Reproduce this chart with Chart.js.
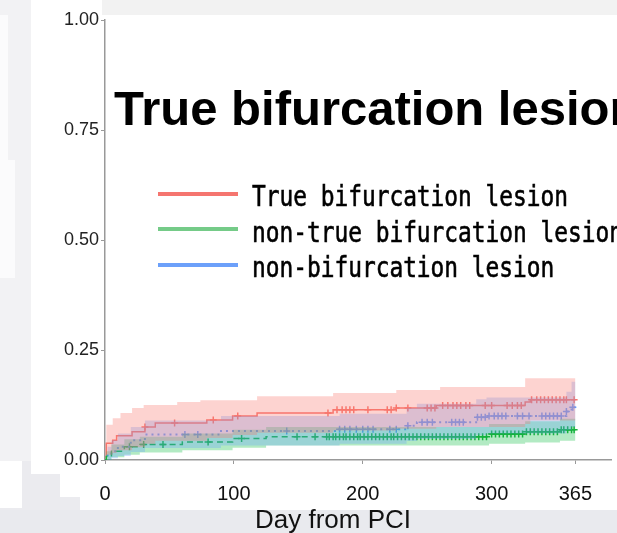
<!DOCTYPE html>
<html>
<head>
<meta charset="utf-8">
<script src="https://cdn.jsdelivr.net/npm/chart.js@4"></script>
<style>
  html, body { margin: 0; padding: 0; }
  body { width: 617px; height: 533px; position: relative; overflow: hidden; background: #ebebef; }
  .bg { position: absolute; }
  #wrap { position: absolute; left: 0; top: 0; width: 617px; height: 533px; z-index: 5; }
</style>
</head>
<body>
<!-- fondo recortado de la captura original -->
<div class="bg" style="left:0;top:0;width:31px;height:461px;background:#f2f2f4"></div>
<div class="bg" style="left:0;top:15px;width:8px;height:145px;background:#fbfbfc"></div>
<div class="bg" style="left:0;top:160px;width:15px;height:118px;background:#fbfbfc"></div>
<div class="bg" style="left:0;top:461px;width:22px;height:47px;background:#fff"></div>
<div class="bg" style="left:31px;top:0;width:71px;height:15px;background:#fff"></div>
<div class="bg" style="left:102px;top:0;width:515px;height:15px;background:#f2f2f2"></div>
<div class="bg" style="left:31px;top:15px;width:586px;height:459px;background:#fff"></div>
<div class="bg" style="left:60px;top:474px;width:557px;height:23px;background:#fff"></div>
<div class="bg" style="left:80px;top:497px;width:537px;height:13px;background:#fff"></div>
<div class="bg" style="left:0;top:510px;width:617px;height:23px;background:#e9eaee"></div>

<div id="wrap"><canvas id="km"></canvas></div>

<script>
// Colores de cada grupo
const rojo = '#F8766D';
const verde = '#1DAF3F';
const azul = '#619CFF';

// Nombres de los grupos (leyenda)
const grupos = ['True bifurcation lesion', 'non-true bifurcation lesion', 'non-bifurcation lesion'];
const xTicks = [0, 100, 200, 300, 365];
const yTicks = [0, 0.25, 0.5, 0.75, 1];

// True bifurcation lesion: tiempos de evento y incidencia acumulada
const redT = [0, 1, 6, 9, 21, 31, 39, 79, 99, 118, 177, 226, 257, 326, 330, 365];
const redV = [0, 0.038, 0.045, 0.055, 0.064, 0.075, 0.084, 0.091, 0.100, 0.107, 0.114, 0.118, 0.124, 0.132, 0.137, 0.137];
const redUT = [0, 1, 6, 12, 21, 30, 56, 74, 118, 177, 226, 260, 326, 365];
const redUV = [0, 0.08, 0.095, 0.107, 0.118, 0.125, 0.132, 0.136, 0.145, 0.152, 0.159, 0.166, 0.186, 0.186];
const redLT = [0, 1, 6, 9, 21, 31, 39, 79, 99, 118, 177, 226, 257, 326, 330, 365];
const redLV = [0, 0.012, 0.016, 0.022, 0.029, 0.037, 0.044, 0.05, 0.057, 0.062, 0.067, 0.071, 0.075, 0.082, 0.09, 0.09];
const redCensor = [31, 54, 84, 103, 173, 180, 184, 187, 190, 193, 204, 219, 222, 226, 235, 250, 253, 256, 262, 266, 270, 273, 276, 280, 283, 295, 300, 312, 316, 320, 323, 331, 335, 338, 341, 344, 347, 350, 353, 356, 358, 364];

// non-true bifurcation lesion
const greenT = [0, 1, 5, 15, 27, 60, 99, 125, 298, 326, 353, 365];
const greenV = [0, 0.008, 0.02, 0.03, 0.035, 0.041, 0.049, 0.053, 0.059, 0.064, 0.069, 0.069];
const greenUV = [0, 0.02, 0.035, 0.047, 0.053, 0.06, 0.069, 0.075, 0.082, 0.088, 0.094, 0.094];
const greenLV = [0, 0, 0.006, 0.012, 0.017, 0.022, 0.028, 0.033, 0.037, 0.04, 0.044, 0.044];
const greenCensor = [19, 30, 45, 80, 106, 149, 163, 172, 174, 177, 179, 182, 185, 187, 190, 193, 196, 198, 201, 204, 207, 210, 213, 216, 219, 222, 224, 227, 230, 233, 236, 239, 242, 245, 248, 251, 254, 257, 260, 263, 266, 269, 272, 275, 278, 281, 284, 287, 290, 293, 296, 300, 303, 306, 309, 312, 315, 318, 321, 324, 327, 330, 333, 336, 339, 342, 345, 348, 351, 354, 356, 359, 362, 364];

// non-bifurcation lesion
const blueT = [0, 2, 5, 10, 20, 31, 90, 182, 234, 242, 288, 296, 358, 362, 365];
const blueV = [0, 0.01, 0.02, 0.03, 0.045, 0.058, 0.066, 0.07, 0.078, 0.086, 0.097, 0.10, 0.11, 0.12, 0.12];
const blueUV = [0, 0.03, 0.045, 0.06, 0.075, 0.09, 0.1, 0.105, 0.118, 0.128, 0.138, 0.142, 0.155, 0.178, 0.178];
const blueLV = [0, 0, 0.004, 0.009, 0.018, 0.027, 0.033, 0.037, 0.043, 0.048, 0.056, 0.06, 0.068, 0.075, 0.075];
const blueCensor = [62, 72, 141, 182, 186, 190, 195, 200, 204, 208, 221, 226, 235, 246, 250, 254, 269, 272, 275, 278, 289, 292, 295, 298, 302, 305, 308, 311, 320, 324, 329, 339, 342, 345, 348, 351, 354, 358, 363];

// une tiempos y valores en puntos {x, y}
const pts = (t, v) => t.map((d, i) => ({ x: d, y: v[i] }));

// valor de la curva escalonada en el día d
function valorEn(t, v, d) {
  let val = v[0];
  for (let i = 0; i < t.length; i++) {
    if (t[i] <= d) val = v[i];
  }
  return val;
}
const marcas = (c, t, v) => c.map(d => ({ x: d, y: valorEn(t, v, d) }));

function banda(tl, vl, tu, vu, color) {
  return [
    { data: pts(tl, vl), borderWidth: 0, borderColor: 'transparent', pointRadius: 0, stepped: true, fill: false },
    { data: pts(tu, vu), borderWidth: 0, borderColor: 'transparent', pointRadius: 0, stepped: true, fill: '-1', backgroundColor: color }
  ];
}

function curva(t, v, color, dash, ancho) {
  return { data: pts(t, v), borderColor: color, borderWidth: ancho, borderDash: dash, pointRadius: 0, stepped: true, fill: false };
}

function censura(c, t, v, color) {
  return { data: marcas(c, t, v), showLine: false, pointStyle: 'cross', pointRadius: 3.5, pointBorderWidth: 1.5, borderColor: color, backgroundColor: color, fill: false };
}

const datasets = [
  ...banda(redLT, redLV, redUT, redUV, 'rgba(248,118,109,0.32)'),
  ...banda(blueT, blueLV, blueT, blueUV, 'rgba(97,156,255,0.30)'),
  ...banda(greenT, greenLV, greenT, greenUV, 'rgba(0,186,56,0.30)'),
  curva(greenT, greenV, verde, [6, 4], 1.5),
  curva(blueT, blueV, azul, [2, 4], 2),
  curva(redT, redV, rojo, [], 1.5),
  censura(greenCensor, greenT, greenV, verde),
  censura(blueCensor, blueT, blueV, azul),
  censura(redCensor, redT, redV, rojo)
];

// titulo, leyenda y texto del eje x
const textos = {
  id: 'textos',
  afterDraw(chart) {
    const ctx = chart.ctx;
    ctx.save();
    ctx.fillStyle = '#000';
    ctx.font = 'bold 49px "Liberation Sans", Arial, sans-serif';
    ctx.textBaseline = 'alphabetic';
    ctx.fillText('True bifurcation lesion', 114, 125);

    const colores = ['rgba(244,110,103,0.95)', 'rgba(110,200,130,0.95)', 'rgba(100,155,250,0.95)'];
    const lineaY = [194, 229, 265];
    const baseY = [206, 242, 277];
    grupos.forEach((g, i) => {
      ctx.fillStyle = colores[i];
      ctx.fillRect(158, lineaY[i] - 2, 80, 4);
      ctx.save();
      ctx.translate(252, baseY[i]);
      ctx.scale(0.815, 1);
      ctx.fillStyle = '#000';
      ctx.strokeStyle = '#000';
      ctx.lineWidth = 0.6;
      ctx.font = '28px "DejaVu Sans Mono", monospace';
      ctx.fillText(g, 0, 0);
      ctx.strokeText(g, 0, 0);
      ctx.restore();
    });

    ctx.fillStyle = '#111';
    ctx.font = '26px "Liberation Sans", Arial, sans-serif';
    ctx.fillText('Day from PCI', 255, 528);
    ctx.restore();
  }
};

new Chart(document.getElementById('km'), {
  type: 'line',
  data: { datasets },
  options: {
    responsive: true,
    maintainAspectRatio: false,
    animation: false,
    layout: { padding: { top: 20, right: 0, left: 0, bottom: 0 } },
    plugins: { legend: { display: false }, tooltip: { enabled: false } },
    scales: {
      x: {
        type: 'linear',
        min: 0,
        max: 393,
        afterFit: s => { s.height = 73; },
        afterBuildTicks: s => { s.ticks = xTicks.map(v => ({ value: v })); },
        grid: { drawOnChartArea: false, tickLength: 4, color: '#999' },
        border: { color: '#999', width: 1.5 },
        ticks: { font: { size: 20, family: '"Liberation Sans", Arial' }, color: '#111', padding: 18, maxRotation: 0 }
      },
      y: {
        min: 0,
        max: 1,
        afterFit: s => { s.width = 105; },
        afterBuildTicks: s => { s.ticks = yTicks.map(v => ({ value: v })); },
        grid: { drawOnChartArea: false, tickLength: 4, color: '#999' },
        border: { color: '#999', width: 1.5 },
        ticks: { font: { size: 18, family: '"Liberation Sans", Arial' }, color: '#222', padding: 2, callback: v => v.toFixed(2) }
      }
    }
  },
  plugins: [textos]
});
</script>
</body>
</html>
